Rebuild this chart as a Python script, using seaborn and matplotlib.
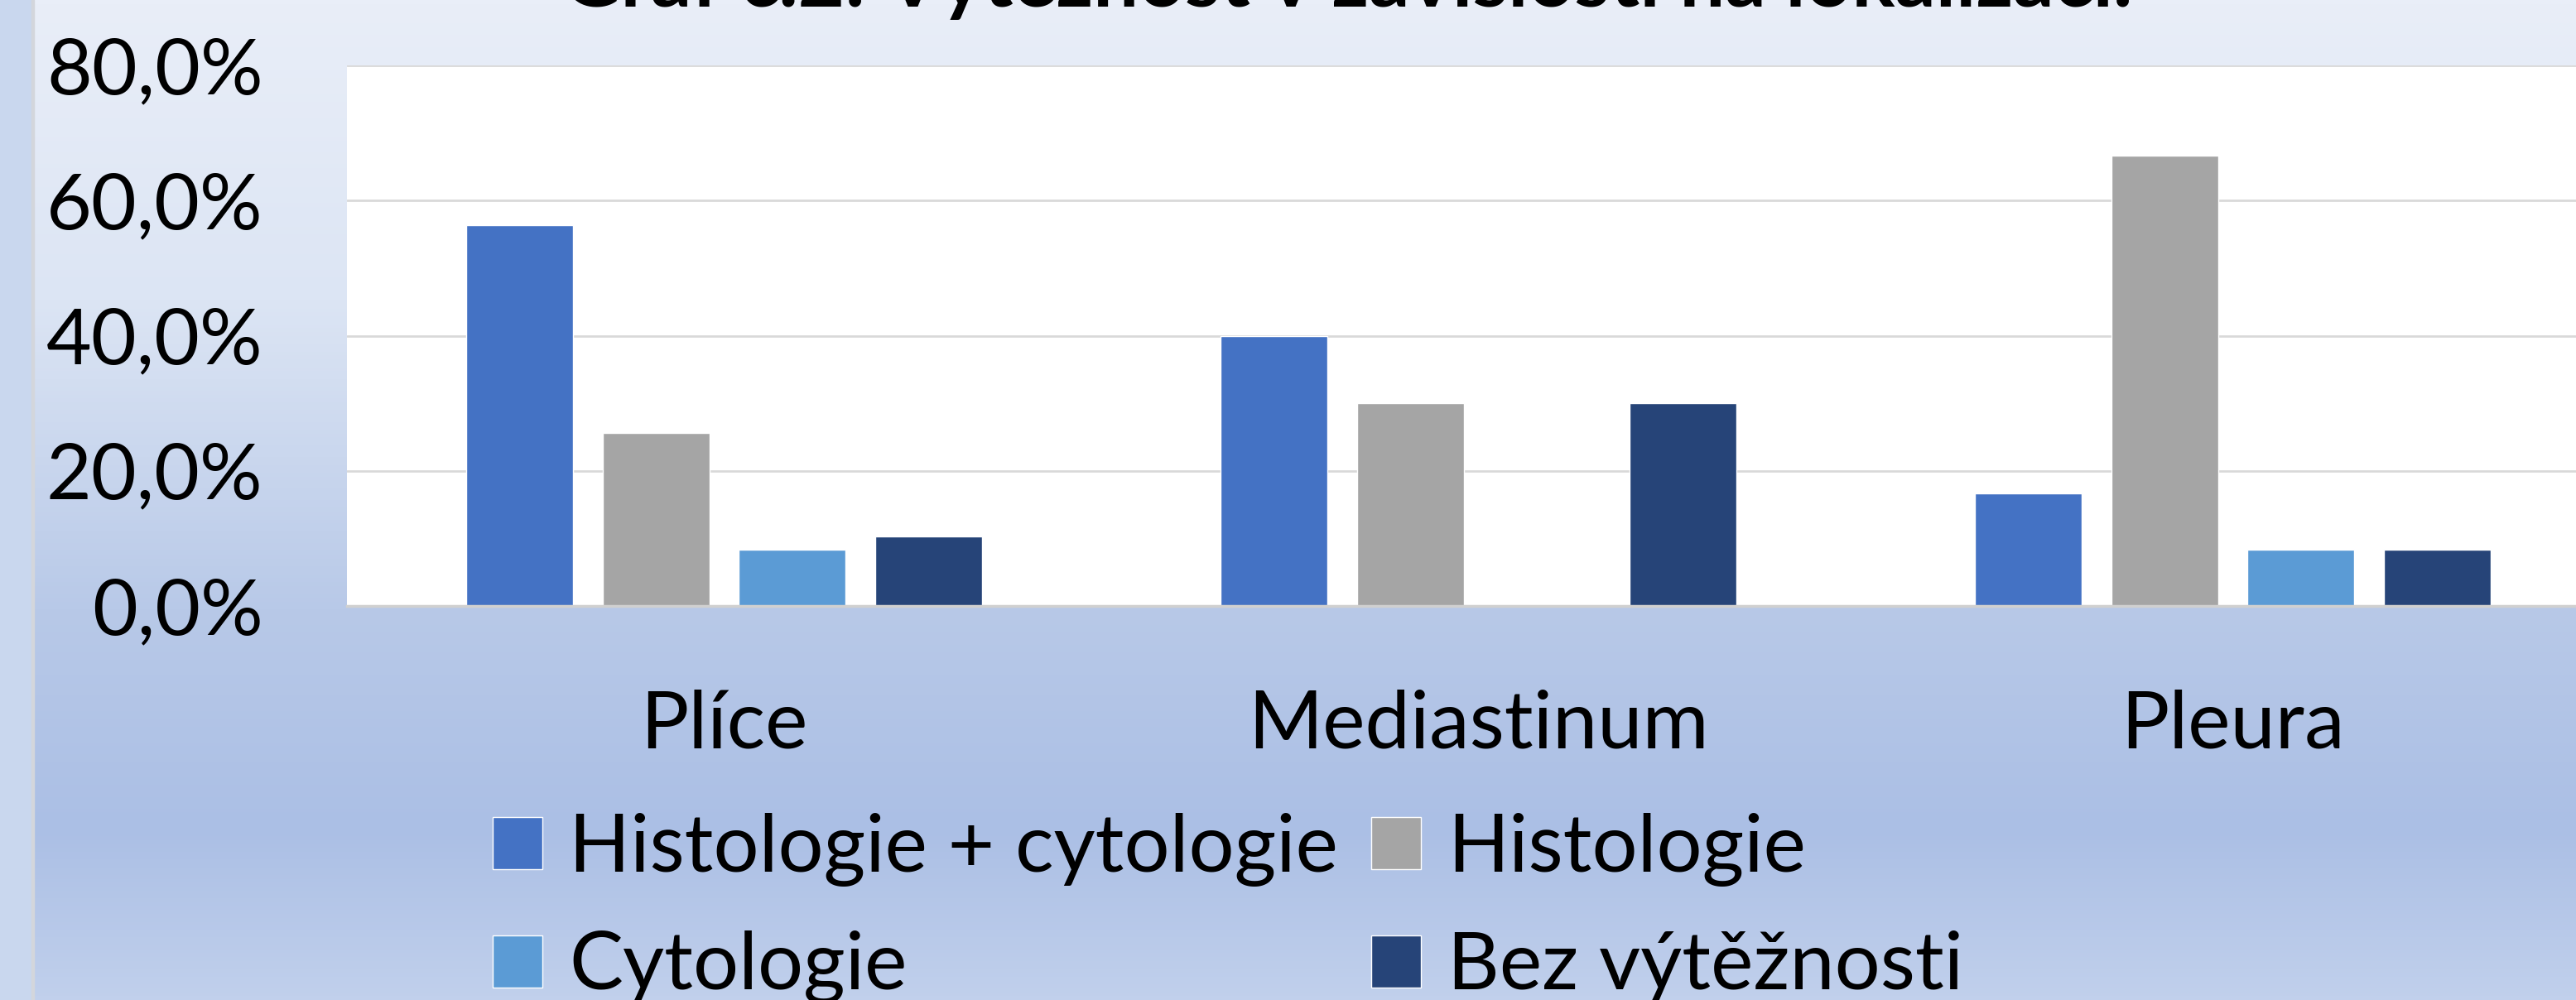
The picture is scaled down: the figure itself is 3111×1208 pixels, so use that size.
import numpy as np
import pandas as pd
import matplotlib
matplotlib.use("Agg")
import matplotlib.pyplot as plt
import seaborn as sns
from matplotlib.colors import LinearSegmentedColormap
from matplotlib.patches import Rectangle
from matplotlib.ticker import FuncFormatter

# data
lokalizace = ["Plíce", "Mediastinum", "Pleura"]
serie = ["Histologie + cytologie", "Histologie", "Cytologie", "Bez výtěžnosti"]
hist_cyt = [0.563, 0.40, 0.167]
histologie = [0.256, 0.30, 0.667]
cytologie = [0.083, 0.0, 0.083]
bez_vyt = [0.103, 0.30, 0.083]
barvy = ["#4472C4", "#A5A5A5", "#5B9BD5", "#264478"]

df = pd.DataFrame({
    "lokalizace": lokalizace * 4,
    "serie": np.repeat(serie, 3),
    "hodnota": hist_cyt + histologie + cytologie + bez_vyt,
})

sns.set_style("white")
plt.rcParams["font.family"] = ["Lato", "DejaVu Sans"]
plt.rcParams["text.color"] = "black"
plt.rcParams["xtick.color"] = "black"
plt.rcParams["ytick.color"] = "black"

W, H = 3111, 1208
fig = plt.figure(figsize=(W / 100, H / 100), dpi=100)

# gradient background
bg = fig.add_axes([0, 0, 1, 1], zorder=-10)
grad = LinearSegmentedColormap.from_list("bg", [
    (0.0, (233/255, 238/255, 248/255)),
    (0.30, (220/255, 229/255, 244/255)),
    (0.61, (184/255, 201/255, 232/255)),
    (0.83, (171/255, 191/255, 229/255)),
    (1.0, (193/255, 208/255, 236/255)),
])
bg.imshow(np.linspace(0, 1, 256).reshape(-1, 1), aspect="auto", cmap=grad,
          extent=[0, 1, 0, 1], origin="upper")
bg.add_patch(Rectangle((0, 0), 38 / W, 1, color="#C9D7EE", zorder=2))
bg.add_patch(Rectangle((38 / W, 0), 3 / W, 1, color="#D3D6DC", zorder=3))
bg.set_xlim(0, 1)
bg.set_ylim(0, 1)
bg.axis("off")

left, right, top, bottom = 419, 3152, 79, 732
ax = fig.add_axes([left / W, 1 - bottom / H, (right - left) / W, (bottom - top) / H])
ax.set_facecolor("white")

sns.barplot(data=df, x="lokalizace", y="hodnota", hue="serie", hue_order=serie,
            palette=barvy, width=0.723, gap=0.217, saturation=1, ax=ax, legend=True)

ax.set_ylim(0, 0.8)
ax.set_yticks([0, 0.2, 0.4, 0.6, 0.8])
ax.yaxis.set_major_formatter(FuncFormatter(lambda v, p: f"{v*100:.1f}%".replace(".", ",")))
ax.grid(axis="y", color="#D9D9D9", lw=2)
ax.set_axisbelow(True)
for s in ["top", "right", "left"]:
    ax.spines[s].set_visible(False)
ax.spines["bottom"].set_color("#D0D0D0")
ax.spines["bottom"].set_linewidth(2.5)
ax.tick_params(axis="y", length=0, labelsize=68, pad=73, labelcolor="black")
ax.tick_params(axis="x", length=0, labelsize=70, pad=72, labelcolor="black")
ax.set_xlabel("")
ax.set_ylabel("")

# legend is filled row by row in the reference
handles, labels = ax.get_legend_handles_labels()
ax.get_legend().remove()
order = [0, 2, 1, 3]
fig.legend([handles[i] for i in order], [labels[i] for i in order], ncol=2,
           loc="upper left", bbox_to_anchor=(595 / W, 1 - 982 / H),
           frameon=False, fontsize=70, handlelength=0.62, handleheight=0.62,
           handletextpad=0.33, columnspacing=0.41, labelspacing=0.55, borderpad=0,
           borderaxespad=0, labelcolor="black")

fig.text(1627 / W, 1 - 8 / H, "Graf č.2: Výtěžnost v závislosti na lokalizaci.",
         ha="center", va="baseline", fontsize=70, fontweight="bold", color="black")

fig.savefig("out.png", dpi=100)
